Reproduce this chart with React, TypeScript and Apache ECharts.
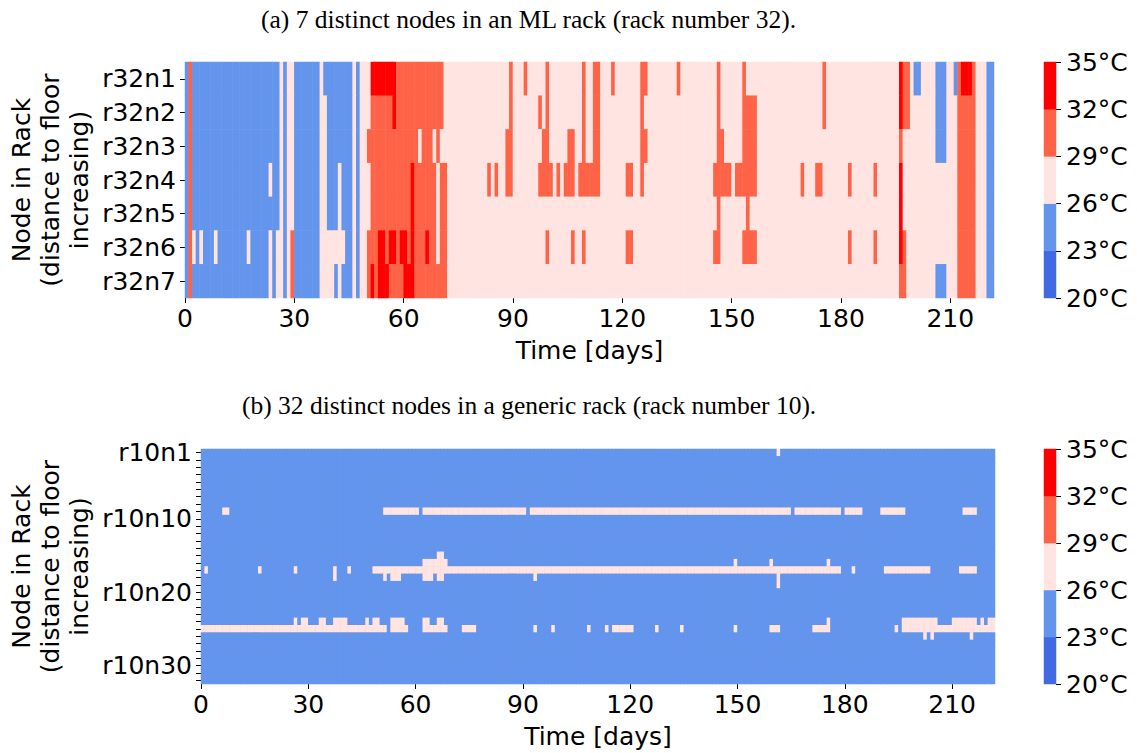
import { useEffect, useRef } from "react";
import * as echarts from "echarts";

// ---- data -------------------------------------------------------------
const DAY_COUNT = 222;
const dayTicks = [0, 30, 60, 90, 120, 150, 180, 210];
const tempBounds = [20, 23, 26, 29, 32, 35];
const tempColors = ["#4169E1", "#6495ED", "#FFE4E1", "#FF6347", "#FF0000"];
// representative temperature (°C) for each class letter used in the row strings
const classTemp: Record<string, number> = { b: 24.5, p: 27.5, o: 30.5, r: 33.5 };

const rack32Nodes = ["r32n1", "r32n2", "r32n3", "r32n4", "r32n5", "r32n6", "r32n7"];
// run-length rows: "<days><class>" ... one entry per node, 222 days each
const rack32Rows = [
  "1b 1o 24b 1p 1b 2p 7b 1p 8b 1p 1b 3p 7r 13o 18p 1o 3p 1o 5p 1o 9p 1o 2p 2o 3p 1o 7p 2o 8p 1o 10p 1o 6p 1o 21p 1o 20p 1r 2o 1p 2b 4p 3b 2p 1b 1o 3r 1o 3p 2b",
  "1b 1o 24b 1p 1b 2p 7b 2p 7b 1p 1b 3p 6o 1r 13o 18p 1o 7p 1o 1p 1o 9p 1o 2p 2o 11p 1o 20p 1o 6p 4o 18p 1o 20p 1r 2o 7p 3b 3p 5o 3p 2b",
  "1b 1o 24b 1p 1b 2p 7b 2p 7b 1p 1b 2p 14o 1p 3o 1p 1o 18p 2o 8p 2o 5p 2o 2p 1o 2p 2o 11p 2o 19p 2o 5p 4o 39p 1o 9p 3b 3p 5o 3p 2b",
  "1b 1o 21b 1p 2b 1p 1b 2p 7b 2p 3b 1p 3b 1p 1b 3p 11o 1r 6o 1p 2o 11p 1o 1p 1o 2p 2o 7p 4o 1p 1o 1p 3o 1p 6o 7p 2o 2p 1o 19p 5o 1p 6o 12p 1o 3p 2o 7p 1o 6p 1o 6p 1r 15p 5o 3p 2b",
  "1b 1o 24b 1p 1b 2p 7b 2p 3b 1p 3b 1p 1b 3p 11o 1r 6o 1p 2o 74p 1o 7p 1o 41p 1r 15p 5o 3p 2b",
  "1b 1o 1p 1b 1p 3b 1p 8b 1p 5b 1p 1b 2p 1b 1p 1o 7b 7p 2b 1p 1b 2p 3o 2r 1o 2r 1o 2r 1o 1r 3o 1r 2o 1p 2o 27p 1o 6p 1o 2p 1o 11p 2o 22p 2o 6p 4o 25p 1o 6p 1o 6p 1r 1o 14p 5o 3p 2b",
  "1b 1o 21b 1p 1b 2p 1b 1p 1o 7b 4p 1b 1p 3b 1p 1b 2p 1o 1r 1o 3r 4o 3r 9o 124p 2o 8p 3b 3p 5o 3p 2b",
];

const rack10Nodes = [
  "r10n1", "r10n2", "r10n3", "r10n4", "r10n5", "r10n6", "r10n7", "r10n8",
  "r10n9", "r10n10", "r10n11", "r10n12", "r10n13", "r10n14", "r10n15", "r10n16",
  "r10n17", "r10n18", "r10n19", "r10n20", "r10n21", "r10n22", "r10n23", "r10n24",
  "r10n25", "r10n26", "r10n27", "r10n28", "r10n29", "r10n30", "r10n31", "r10n32",
];
const rack10Labelled = [0, 9, 19, 29];
const rack10Rows = [
  "161b 1p 60b",
  "222b",
  "222b",
  "222b",
  "222b",
  "222b",
  "222b",
  "222b",
  "6b 2p 43b 10p 1b 29p 1b 73p 1b 13p 1b 5p 5b 7p 16b 4p 5b",
  "222b",
  "222b",
  "222b",
  "222b",
  "222b",
  "66b 2p 154b",
  "62b 7p 80b 1p 9b 1p 15b 1p 46b",
  "1b 1p 14b 1p 9b 1p 10b 1p 3b 1p 6b 131p 3b 1p 8b 13p 8b 5p 5b",
  "37b 1p 13b 1p 1b 3p 6b 3p 1b 2p 25b 1p 67b 1p 60b",
  "161b 1p 60b",
  "222b",
  "222b",
  "222b",
  "222b",
  "26b 1p 1b 2p 3b 2p 2b 4p 5b 1p 1b 2p 3b 4p 5b 2p 2b 2p 107b 1p 20b 10p 4b 7p 1b 1p 1b 2p",
  "52p 1b 5p 4b 7p 4b 4p 16b 1p 4b 1p 9b 1p 4b 1p 1b 6p 6b 1p 6b 1p 14b 1p 9b 3p 9b 5p 18b 1p 1b 26p",
  "202b 1p 1b 1p 10b 1p 6b",
  "222b",
  "222b",
  "222b",
  "222b",
  "222b",
  "222b",
];

const titleA = "(a) 7 distinct nodes in an ML rack (rack number 32).";
const titleB = "(b) 32 distinct nodes in a generic rack (rack number 10).";
const yTitle = "Node in Rack\n(distance to floor\nincreasing)";
const xTitle = "Time [days]";

// ---- helpers ----------------------------------------------------------
function expandRuns(runs: string): number[] {
  const out: number[] = [];
  for (const tok of runs.trim().split(/\s+/)) {
    const n = parseInt(tok, 10);
    const v = classTemp[tok[tok.length - 1]];
    for (let i = 0; i < n; i++) out.push(v);
  }
  return out.slice(0, DAY_COUNT);
}

function heatData(rows: string[]): number[][] {
  const data: number[][] = [];
  rows.forEach((runs, y) => {
    expandRuns(runs).forEach((v, x) => data.push([x, y, v]));
  });
  return data;
}

const dayCats = Array.from({ length: DAY_COUNT }, (_, i) => String(i));
const binCats = tempColors.map((_, i) => String(i));
const colorbarData = tempColors.map((_, i) => [0, i, (tempBounds[i] + tempBounds[i + 1]) / 2]);

const SANS = "DejaVu Sans";
const FS = 25;
const tickStyle = { color: "#000", width: 1 };
const labelStyle = { fontFamily: SANS, fontSize: FS, color: "#000" };

// grid geometry (px)
const top = { left: 185, top: 62, width: 809, height: 236 };
const bottom = { left: 201, top: 449, width: 794, height: 235 };
const cbarLeft = 1044;
const cbarWidth = 12;

function hiddenCat(gridIndex: number, data: string[]) {
  return { type: "category", gridIndex, data, show: false, boundaryGap: true };
}

function dayAxis(gridIndex: number) {
  return {
    type: "value",
    gridIndex,
    min: 0,
    max: DAY_COUNT,
    position: "bottom",
    axisLine: { show: false },
    splitLine: { show: false },
    axisTick: { show: true, customValues: dayTicks, length: 5, lineStyle: tickStyle },
    axisLabel: { ...labelStyle, customValues: dayTicks, margin: 8 },
  };
}

function tempAxis(gridIndex: number) {
  return {
    type: "value",
    gridIndex,
    min: tempBounds[0],
    max: tempBounds[tempBounds.length - 1],
    position: "right",
    axisLine: { show: false },
    splitLine: { show: false },
    axisTick: { show: true, customValues: tempBounds, length: 5, lineStyle: tickStyle },
    axisLabel: { ...labelStyle, customValues: tempBounds, margin: 10, formatter: "{value}°C" },
  };
}

function nodeAxis(gridIndex: number, data: string[], labelled?: number[]) {
  return {
    type: "category",
    gridIndex,
    data,
    inverse: true,
    axisLine: { show: false },
    splitLine: { show: false },
    axisTick: { show: true, alignWithLabel: true, interval: 0, length: 5, lineStyle: tickStyle },
    axisLabel: {
      ...labelStyle,
      margin: 9,
      interval: labelled ? (i: number) => labelled.includes(i) : 0,
    },
  };
}

function heatSeries(xAxisIndex: number, yAxisIndex: number, data: number[][]) {
  return {
    type: "heatmap",
    xAxisIndex,
    yAxisIndex,
    data,
    progressive: 0,
    emphasis: { disabled: true },
    itemStyle: { borderWidth: 0 },
  };
}

export default function App() {
  const ref = useRef<HTMLDivElement>(null);

  useEffect(() => {
    if (!ref.current) return;
    const chart = echarts.init(ref.current, undefined, { renderer: "svg" });

    chart.setOption({
      animation: false,
      backgroundColor: "#fff",
      grid: [
        // plot backgrounds in the dominant cell colour hide anti-aliasing seams between cells
        { ...top, show: true, backgroundColor: tempColors[2], borderWidth: 0 },
        { left: cbarLeft, top: top.top, width: cbarWidth, height: top.height },
        { ...bottom, show: true, backgroundColor: tempColors[1], borderWidth: 0 },
        { left: cbarLeft, top: bottom.top, width: cbarWidth, height: bottom.height },
      ],
      xAxis: [
        hiddenCat(0, dayCats),
        dayAxis(0),
        hiddenCat(1, ["c"]),
        hiddenCat(2, dayCats),
        dayAxis(2),
        hiddenCat(3, ["c"]),
      ],
      yAxis: [
        nodeAxis(0, rack32Nodes),
        hiddenCat(1, binCats),
        tempAxis(1),
        nodeAxis(2, rack10Nodes, rack10Labelled),
        hiddenCat(3, binCats),
        tempAxis(3),
      ],
      visualMap: {
        type: "piecewise",
        show: false,
        dimension: 2,
        seriesIndex: [0, 1, 2, 3],
        pieces: tempColors.map((color, i) => ({ gte: tempBounds[i], lt: tempBounds[i + 1], color })),
      },
      series: [
        heatSeries(0, 0, heatData(rack32Rows)),
        heatSeries(3, 3, heatData(rack10Rows)),
        heatSeries(2, 1, colorbarData),
        heatSeries(5, 4, colorbarData),
      ],
      graphic: [
        {
          type: "text",
          x: 261,
          y: 19,
          style: { text: titleA, font: '25.5px "Liberation Serif"', fill: "#000", textAlign: "left", textVerticalAlign: "middle" },
        },
        {
          type: "text",
          x: 242,
          y: 405,
          style: { text: titleB, font: '25.5px "Liberation Serif"', fill: "#000", textAlign: "left", textVerticalAlign: "middle" },
        },
        {
          type: "text",
          x: 50,
          y: top.top + top.height / 2,
          rotation: Math.PI / 2,
          style: { text: yTitle, font: `${FS}px "${SANS}"`, fill: "#000", textAlign: "center", textVerticalAlign: "middle", lineHeight: 29 },
        },
        {
          type: "text",
          x: 50,
          y: bottom.top + bottom.height / 2,
          rotation: Math.PI / 2,
          style: { text: yTitle, font: `${FS}px "${SANS}"`, fill: "#000", textAlign: "center", textVerticalAlign: "middle", lineHeight: 29 },
        },
        {
          type: "text",
          x: top.left + top.width / 2,
          y: 350,
          style: { text: xTitle, font: `${FS}px "${SANS}"`, fill: "#000", textAlign: "center", textVerticalAlign: "middle" },
        },
        {
          type: "text",
          x: bottom.left + bottom.width / 2,
          y: 736,
          style: { text: xTitle, font: `${FS}px "${SANS}"`, fill: "#000", textAlign: "center", textVerticalAlign: "middle" },
        },
      ],
    });

    return () => chart.dispose();
  }, []);

  return <div ref={ref} style={{ position: "absolute", left: 0, top: 0, width: 1137, height: 753 }} />;
}
